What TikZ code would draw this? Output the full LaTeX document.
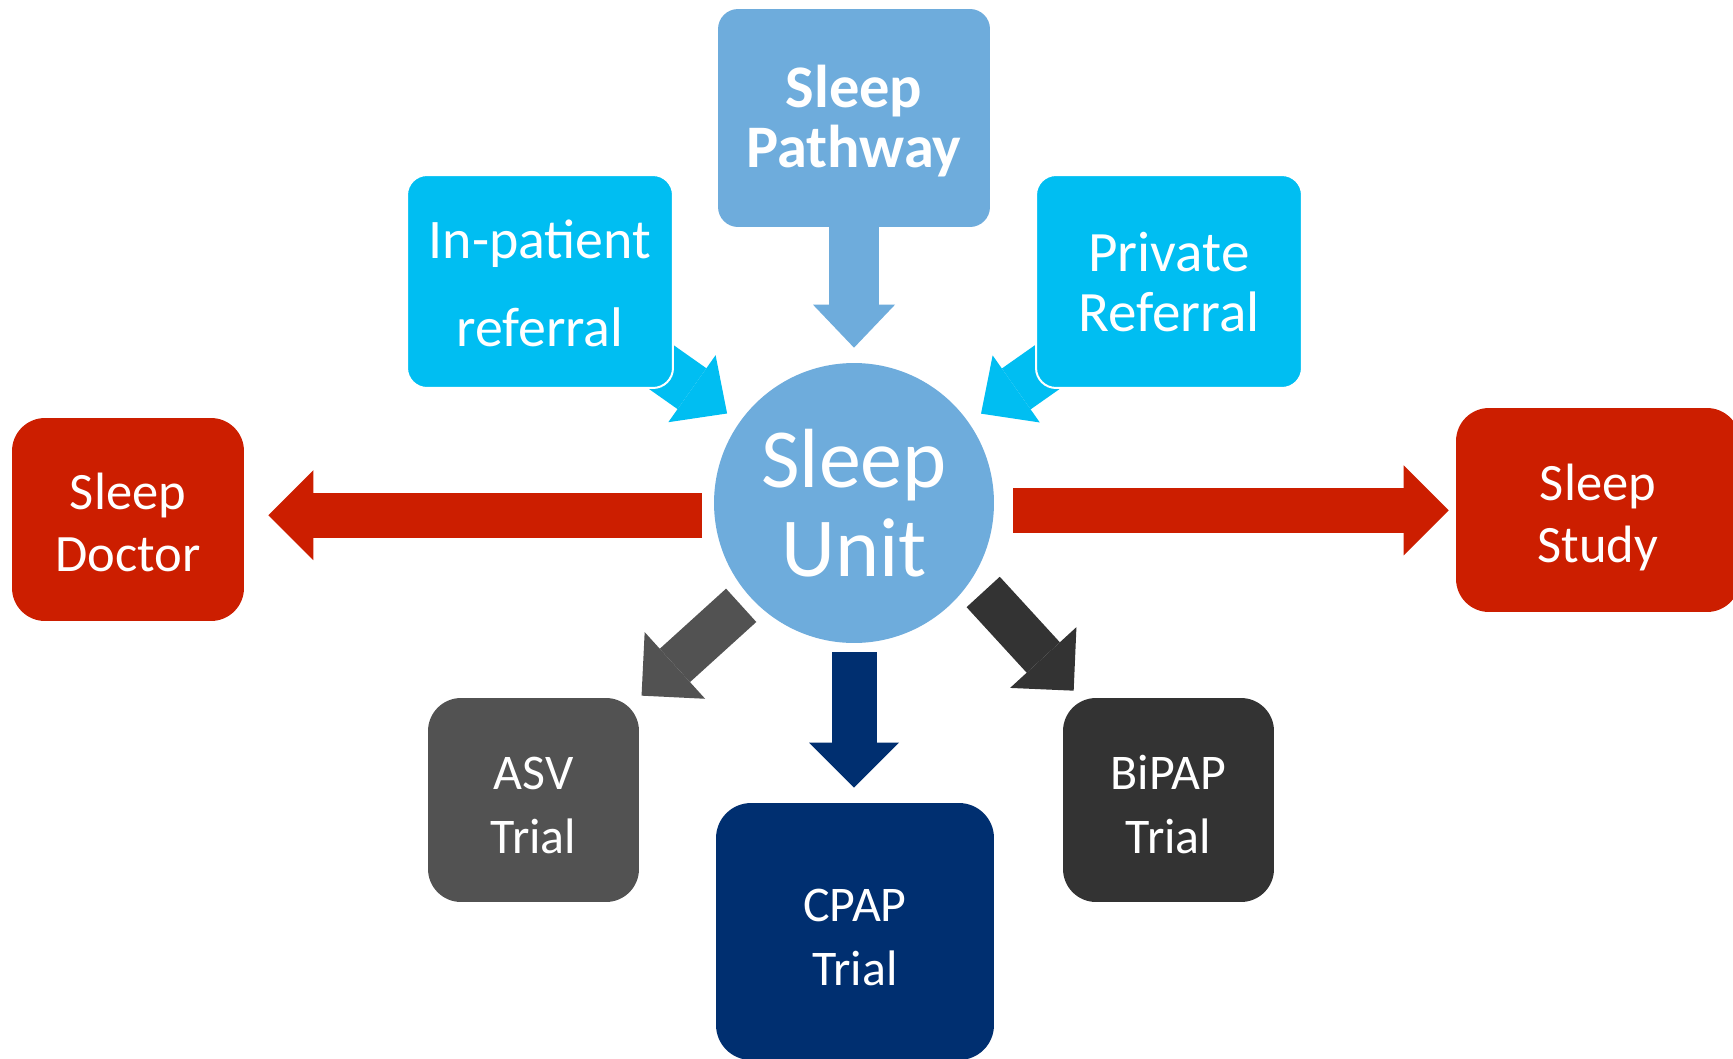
\documentclass[tikz,border=0pt]{standalone}
\usepackage{fontspec}
\setmainfont{Carlito}
\usetikzlibrary{arrows.meta,backgrounds}
\definecolor{unitblue}{RGB}{110,172,220}
\definecolor{refcyan}{RGB}{0,190,242}
\definecolor{studyred}{RGB}{204,30,0}
\definecolor{cpapnavy}{RGB}{0,47,112}
\definecolor{asvgrey}{RGB}{82,82,82}
\definecolor{bipapgrey}{RGB}{51,51,51}
\begin{document}
\begin{tikzpicture}[x=0.02cm, y=-0.02cm,
  box/.style={rounded corners=0.66cm, inner sep=0pt, align=center, text=white, text depth=0pt},
  inarrow/.style={line width=1cm, -{Triangle[length=0.86cm,width=1.64cm,line width=0pt]}},
  outarrow/.style={line width=0.9cm, -{Triangle[length=0.9cm,width=1.8cm,line width=0pt]}}]
\useasboundingbox (0,0) rectangle (1733,1058);
% centre
\node[circle, fill=unitblue, minimum size=5.6cm, inner sep=0pt, text=white, align=center,
  font=\fontsize{47.8}{50.6}\selectfont] (unit) at (854,503) {Sleep\\Unit};
% where patients come from
\node[box, rounded corners=0.4cm, fill=unitblue, minimum width=5.44cm, minimum height=4.36cm, text height=2cm,
  font=\bfseries\fontsize{34.4}{34.7}\selectfont] (pathway) at (854,118) {Sleep\\Pathway};
\node[box, rounded corners=0.4cm, fill=refcyan, draw=white, line width=0.04cm, minimum width=5.32cm, minimum height=4.26cm,
  text height=2.62cm, font=\fontsize{31.8}{50.6}\selectfont] (inpatient) at (540,281.5) {In-patient\\referral};
\node[box, rounded corners=0.4cm, fill=refcyan, draw=white, line width=0.04cm, minimum width=5.32cm, minimum height=4.26cm,
  text height=2.02cm, font=\fontsize{32.5}{34.7}\selectfont] (private) at (1169,281.5) {Private\\Referral};
% where they go
\node[box, fill=studyred, minimum width=4.64cm, minimum height=4.06cm, text height=2.1cm,
  font=\fontsize{29.9}{35.8}\selectfont] (doctor) at (128,519.5) {Sleep\\Doctor};
\node[box, fill=studyred, minimum width=5.68cm, minimum height=4.08cm, text height=2.12cm,
  font=\fontsize{29.9}{35.8}\selectfont] (study) at (1598,510) {Sleep\\Study};
\node[box, fill=asvgrey, minimum width=4.22cm, minimum height=4.08cm, text height=2.12cm,
  font=\fontsize{28.4}{36}\selectfont] (asv) at (533.5,800) {ASV\\Trial};
\node[box, rounded corners=0.7cm, fill=cpapnavy, minimum width=5.56cm, minimum height=5.14cm, text height=2.14cm,
  font=\fontsize{28.4}{36}\selectfont] (cpap) at (855,931.5) {CPAP\\Trial};
\node[box, fill=bipapgrey, minimum width=4.22cm, minimum height=4.08cm, text height=2.12cm,
  font=\fontsize{28.4}{36}\selectfont] (bipap) at (1168.5,800) {BiPAP\\Trial};
\begin{scope}[on background layer]
\fill[white] (0,0) rectangle (1733,1058);
\draw[inarrow, unitblue, shorten >=0.3cm] (pathway) -- (unit);
\draw[inarrow, refcyan, shorten >=0.3cm] (inpatient.center) -- (unit);
\draw[inarrow, refcyan, shorten >=0.3cm] (private.center) -- (unit);
\draw[outarrow, studyred, shorten <=0.24cm, shorten >=0.48cm] (unit.185) -- (unit.185 -| doctor.east);
\draw[outarrow, studyred, shorten <=0.38cm, shorten >=0.14cm] (unit.-3) -- (unit.-3 -| study.west);
\draw[outarrow, cpapnavy, shorten <=0.18cm, shorten >=0.3cm] (unit.south) -- (unit.south |- cpap.north);
\draw[outarrow, asvgrey, shorten <=0.24cm, shorten >=0.06cm] (unit) -- (asv.north east);
\draw[outarrow, bipapgrey, shorten <=0.34cm] (unit.-33) -- ([xshift=0.22cm,yshift=0.14cm]bipap.north west);
\end{scope}
\end{tikzpicture}
\end{document}
